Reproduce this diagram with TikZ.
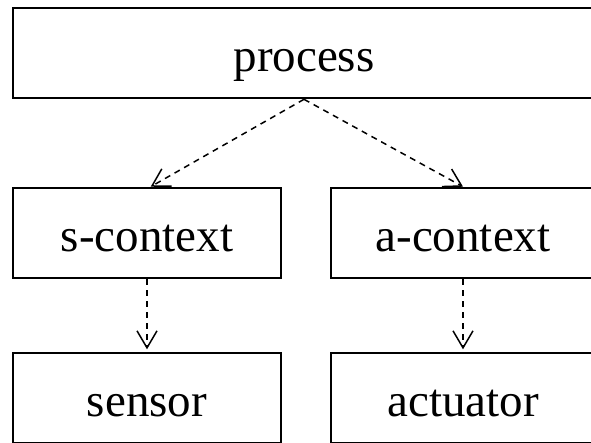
\documentclass[tikz,border=0pt]{standalone}
\usepackage{fontspec}
\setmainfont{Liberation Serif}
\usetikzlibrary{arrows.meta}
\begin{document}
\begin{tikzpicture}[x=1pt,y=-1pt,
  box/.style={draw, line width=2.6pt, inner sep=0pt, minimum height=90pt,
    text height=36pt, text depth=0pt,
    font=\fontsize{47}{56}\selectfont},
  link/.style={line width=1.5pt, dash pattern=on 6pt off 5pt,
    -{Straight Barb[length=17pt,width=20pt,line width=1.5pt]}}]
\useasboundingbox (0,0) rectangle (591,442);
\fill[white] (0,0) rectangle (591,442);
\node[box, minimum width=582pt] (proc) at (304,53) {process};
\node[box, minimum width=268pt] (sc) at (147,233) {s-context};
\node[box, minimum width=264pt] (ac) at (463,233) {a-context};
\node[box, minimum width=268pt] (sen) at (147,398) {sensor};
\node[box, minimum width=264pt] (act) at (463,398) {actuator};
\draw[link] (proc.south) -- ([xshift=3.7pt]sc.north);
\draw[link] (proc.south) -- (ac.north);
\draw[link, shorten >=2.4pt] (sc.south) -- (sen.north);
\draw[link, shorten >=2.4pt] (ac.south) -- (act.north);
\end{tikzpicture}
\end{document}
